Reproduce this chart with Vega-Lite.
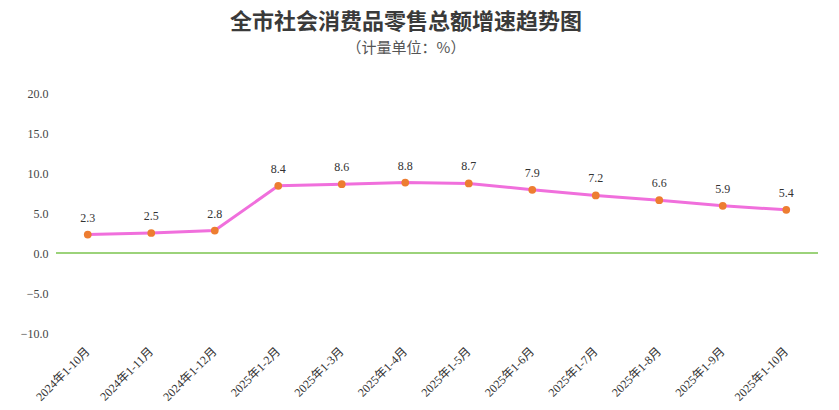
{
  "$schema": "https://vega.github.io/schema/vega-lite/v6.json",
  "autosize": "none",
  "width": 762,
  "height": 240,
  "padding": {"left": 56, "top": 93, "right": 21, "bottom": 77},
  "background": "white",
  "config": {"view": {"stroke": null}},
  "title": {
    "text": "全市社会消费品零售总额增速趋势图",
    "subtitle": "（计量单位：%）",
    "anchor": "middle",
    "frame": "group",
    "dx": -31,
    "offset": 30,
    "font": "Noto Sans CJK SC",
    "fontSize": 22,
    "fontWeight": "bold",
    "color": "#3a3a3a",
    "subtitleFont": "Noto Sans CJK SC",
    "subtitleFontSize": 15,
    "subtitleColor": "#555555",
    "subtitlePadding": 7
  },
  "data": {
    "values": [
      {"period": "2024年1-10月", "rate": 2.3},
      {"period": "2024年1-11月", "rate": 2.5},
      {"period": "2024年1-12月", "rate": 2.8},
      {"period": "2025年1-2月", "rate": 8.4},
      {"period": "2025年1-3月", "rate": 8.6},
      {"period": "2025年1-4月", "rate": 8.8},
      {"period": "2025年1-5月", "rate": 8.7},
      {"period": "2025年1-6月", "rate": 7.9},
      {"period": "2025年1-7月", "rate": 7.2},
      {"period": "2025年1-8月", "rate": 6.6},
      {"period": "2025年1-9月", "rate": 5.9},
      {"period": "2025年1-10月", "rate": 5.4}
    ]
  },
  "encoding": {
    "x": {
      "field": "period",
      "type": "ordinal",
      "sort": null,
      "scale": {"type": "band", "paddingInner": 0, "paddingOuter": 0},
      "axis": {
        "title": null,
        "domain": false,
        "ticks": false,
        "labelAngle": -45,
        "labelAlign": "right",
        "labelBaseline": "middle",
        "labelPadding": 16,
        "labelFont": "Liberation Serif, Noto Sans CJK SC",
        "labelFontSize": 12,
        "labelColor": "#333333"
      }
    },
    "y": {
      "field": "rate",
      "type": "quantitative",
      "scale": {"domain": [-10, 20], "nice": false, "zero": false},
      "axis": {
        "title": null,
        "values": [-10, -5, 0, 5, 10, 15, 20],
        "format": ".1f",
        "grid": false,
        "domain": false,
        "ticks": false,
        "labelPadding": 8,
        "labelFont": "Liberation Serif",
        "labelFontSize": 12,
        "labelColor": "#444444"
      }
    }
  },
  "layer": [
    {
      "mark": {"type": "rule", "color": "#9BD27A", "strokeWidth": 1},
      "encoding": {"y": {"datum": 0}, "x": null}
    },
    {
      "mark": {"type": "line", "color": "#F06FDC", "strokeWidth": 3}
    },
    {
      "mark": {"type": "point", "filled": true, "color": "#ED7D31", "size": 60, "opacity": 1}
    },
    {
      "mark": {"type": "text", "dy": -17, "font": "Liberation Serif", "fontSize": 12, "color": "#333333"},
      "encoding": {"text": {"field": "rate", "type": "quantitative", "format": ".1f"}}
    }
  ]
}
